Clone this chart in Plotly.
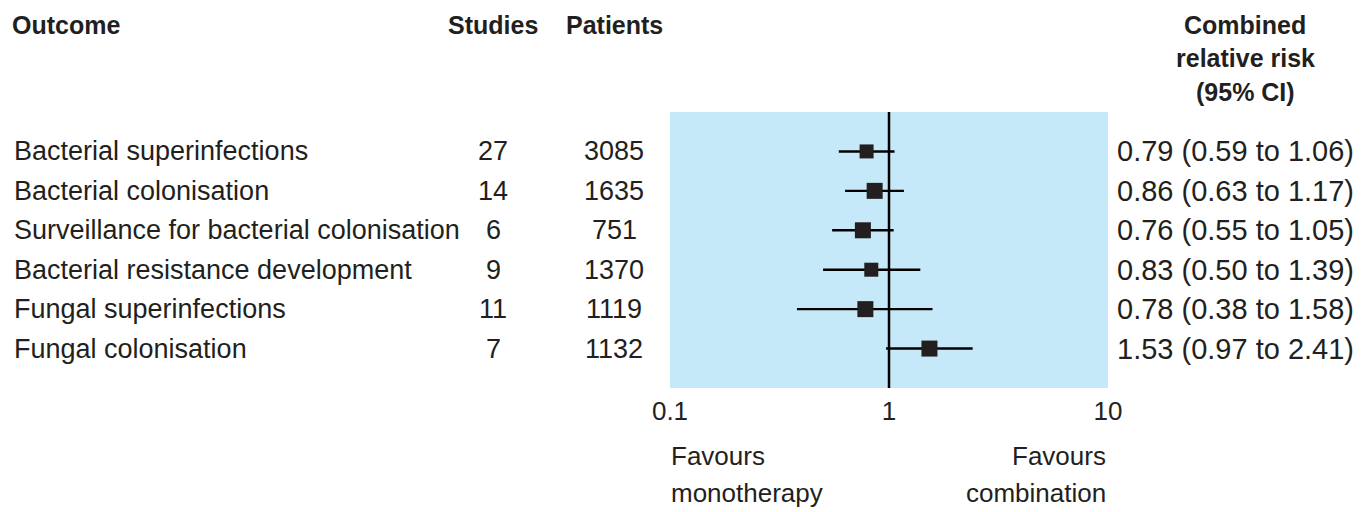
import plotly.graph_objects as go

outcomes = ["Bacterial superinfections", "Bacterial colonisation",
            "Surveillance for bacterial colonisation", "Bacterial resistance development",
            "Fungal superinfections", "Fungal colonisation"]
studies = [27, 14, 6, 9, 11, 7]
patients = [3085, 1635, 751, 1370, 1119, 1132]
rr = [0.79, 0.86, 0.76, 0.83, 0.78, 1.53]
lo = [0.59, 0.63, 0.55, 0.50, 0.38, 0.97]
hi = [1.06, 1.17, 1.05, 1.39, 1.58, 2.41]
weights = [14, 16, 16, 14, 16, 16]
tick_vals = [0.1, 1, 10]
tick_text = ["0.1", "1", "10"]

rows = list(range(len(outcomes)))
OFF = 8  # page body margin
W, H = 1363 - OFF, 512 - OFF
L, R, T, B = 670 - OFF, 255, 112 - OFF, 124
pw, ph = W - L - R, H - T - B

def px(x):
    return (x - OFF - L) / pw

def py(y):
    return (H - B - (y - OFF)) / ph

FONT = "Liberation Sans, Arial, sans-serif"
TXT = "#231f20"

fig = go.Figure()
fig.add_trace(go.Scatter(
    x=rr, y=rows, mode="markers",
    marker=dict(symbol="square", size=weights, color=TXT, opacity=1, line=dict(width=0)),
    error_x=dict(type="data", symmetric=False,
                 array=[h - r for h, r in zip(hi, rr)],
                 arrayminus=[r - l for r, l in zip(rr, lo)],
                 color="black", thickness=2.4, width=0),
    showlegend=False, hoverinfo="skip"))

fig.add_shape(type="line", xref="x", yref="paper", x0=1, x1=1, y0=0, y1=1,
              line=dict(color="black", width=2.5), layer="above")

ann = []
for i, name in enumerate(outcomes):
    ann.append(dict(x=px(12), y=i, xref="paper", yref="y", text=name, showarrow=False,
                    xanchor="left", yanchor="middle", font=dict(size=27, family=FONT, color=TXT)))
    ann.append(dict(x=px(493), y=i, xref="paper", yref="y", text=str(studies[i]), showarrow=False,
                    xanchor="center", yanchor="middle", font=dict(size=27, family=FONT, color=TXT)))
    ann.append(dict(x=px(614), y=i, xref="paper", yref="y", text=str(patients[i]), showarrow=False,
                    xanchor="center", yanchor="middle", font=dict(size=27, family=FONT, color=TXT)))
    ann.append(dict(x=px(1115), y=i, xref="paper", yref="y",
                    text=f"{rr[i]:.2f} ({lo[i]:.2f} to {hi[i]:.2f})", showarrow=False,
                    xanchor="left", yanchor="middle", font=dict(size=29, family=FONT, color=TXT)))

hdr = dict(size=25, family=FONT, color=TXT, weight="bold")
for text, x, y, anchor in [("Outcome", 10, 25, "left"), ("Studies", 493, 25, "center"),
                           ("Patients", 614, 25, "center"), ("Combined", 1245, 25, "center"),
                           ("relative risk", 1245, 58, "center"), ("(95% CI)", 1245, 92, "center")]:
    ann.append(dict(x=px(x), y=py(y), xref="paper", yref="paper", text=text, showarrow=False,
                    xanchor=anchor, yanchor="middle", font=hdr))

for text, x, y, anchor in [("Favours", 669, 456, "left"), ("monotherapy", 669, 493, "left"),
                           ("Favours", 1108, 456, "right"), ("combination", 1108, 493, "right")]:
    ann.append(dict(x=px(x), y=py(y), xref="paper", yref="paper", text=text, showarrow=False,
                    xanchor=anchor, yanchor="middle", font=dict(size=26, family=FONT, color=TXT)))

fig.update_layout(
    width=W, height=H, margin=dict(l=L, r=R, t=T, b=B),
    paper_bgcolor="white", plot_bgcolor="#c6e9f9",
    annotations=ann,
    xaxis=dict(type="log", range=[-1, 1], tickvals=tick_vals, ticktext=tick_text,
               showgrid=False, zeroline=False, showline=False, ticks="",
               ticklabelstandoff=5,
               tickfont=dict(size=26, family=FONT, color=TXT), fixedrange=True),
    yaxis=dict(range=[6, -1], showgrid=False, zeroline=False, showticklabels=False,
               showline=False, fixedrange=True),
)

fig.write_html("out.html")
